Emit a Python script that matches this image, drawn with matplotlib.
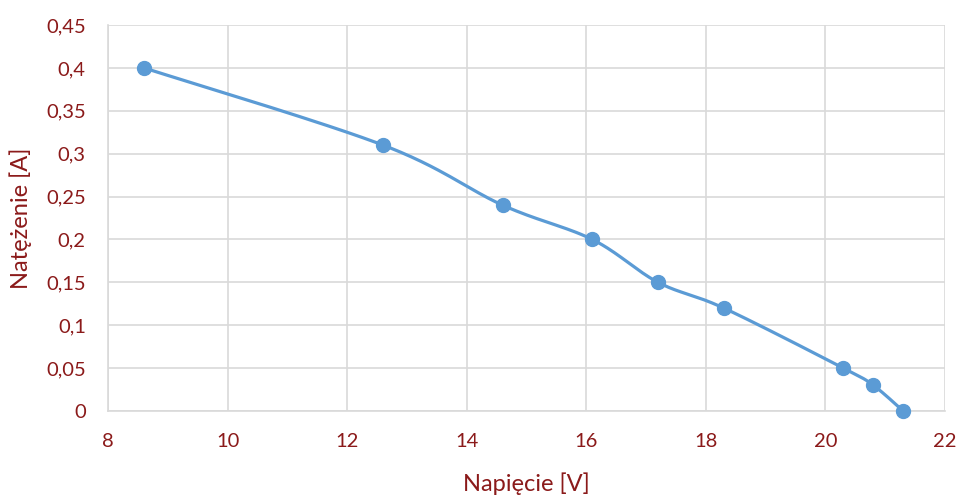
import numpy as np
import matplotlib.pyplot as plt
from matplotlib.ticker import FuncFormatter

napiecie = [8.6, 12.6, 14.6, 16.1, 17.2, 18.3, 20.3, 20.8, 21.3]
natezenie = [0.40, 0.31, 0.24, 0.20, 0.15, 0.12, 0.05, 0.03, 0.0]

x_ticks = [8, 10, 12, 14, 16, 18, 20, 22]
y_ticks = [0, 0.05, 0.1, 0.15, 0.2, 0.25, 0.3, 0.35, 0.4, 0.45]

kolor_linii = "#5B9BD5"
kolor_tekstu = "#8B1A1A"
kolor_siatki = "#D9D9D9"


def gladka_linia(xs, ys, n=30):
    # krzywa Beziera przez punkty (wygladzenie jak w arkuszu)
    xs = np.asarray(xs, float)
    ys = np.asarray(ys, float)
    px = np.concatenate([[xs[0]], xs, [xs[-1]]])
    py = np.concatenate([[ys[0]], ys, [ys[-1]]])
    out_x, out_y = [], []
    t = np.linspace(0, 1, n)
    for i in range(1, len(px) - 2):
        p0 = np.array([px[i], py[i]])
        p3 = np.array([px[i + 1], py[i + 1]])
        p1 = p0 + (np.array([px[i + 1], py[i + 1]]) - np.array([px[i - 1], py[i - 1]])) / 6
        p2 = p3 - (np.array([px[i + 2], py[i + 2]]) - np.array([px[i], py[i]])) / 6
        b = ((1 - t) ** 3)[:, None] * p0 + (3 * (1 - t) ** 2 * t)[:, None] * p1 \
            + (3 * (1 - t) * t ** 2)[:, None] * p2 + (t ** 3)[:, None] * p3
        out_x.extend(b[:, 0])
        out_y.extend(b[:, 1])
    return out_x, out_y


plt.rcParams['font.family'] = ['Lato', 'DejaVu Sans']

fig = plt.figure(figsize=(9.58, 4.96), dpi=100)
ax = fig.add_axes([108 / 958, 1 - 411 / 496, (945 - 108) / 958, (411 - 25) / 496])

sx, sy = gladka_linia(napiecie, natezenie)
ax.plot(sx, sy, color=kolor_linii, lw=2.3, solid_capstyle='round', zorder=3)
ax.plot(napiecie, natezenie, 'o', color=kolor_linii, ms=10, zorder=4, clip_on=False)

ax.set_xlim(8, 22)
ax.set_ylim(0, 0.45)
ax.set_xticks(x_ticks)
ax.set_yticks(y_ticks)
fmt = FuncFormatter(lambda v, p: ('%g' % round(v, 2)).replace('.', ','))
ax.xaxis.set_major_formatter(fmt)
ax.yaxis.set_major_formatter(fmt)

ax.grid(True, color=kolor_siatki, lw=1.2)
ax.set_axisbelow(True)
for s in ax.spines.values():
    s.set_visible(False)
ax.spines['left'].set_visible(True)
ax.spines['left'].set_color(kolor_siatki)
ax.spines['left'].set_linewidth(1.2)
ax.spines['bottom'].set_visible(True)
ax.spines['bottom'].set_color(kolor_siatki)
ax.spines['bottom'].set_linewidth(1.2)

ax.tick_params(length=0, labelsize=14.5, labelcolor=kolor_tekstu)
ax.tick_params(axis='x', pad=16)
ax.tick_params(axis='y', pad=16)
ax.set_xlabel("Napięcie [V]", fontsize=17, color=kolor_tekstu, labelpad=16)
ax.set_ylabel("Natężenie [A]", fontsize=17, color=kolor_tekstu, labelpad=10)

fig.savefig("out.png", dpi=100)
